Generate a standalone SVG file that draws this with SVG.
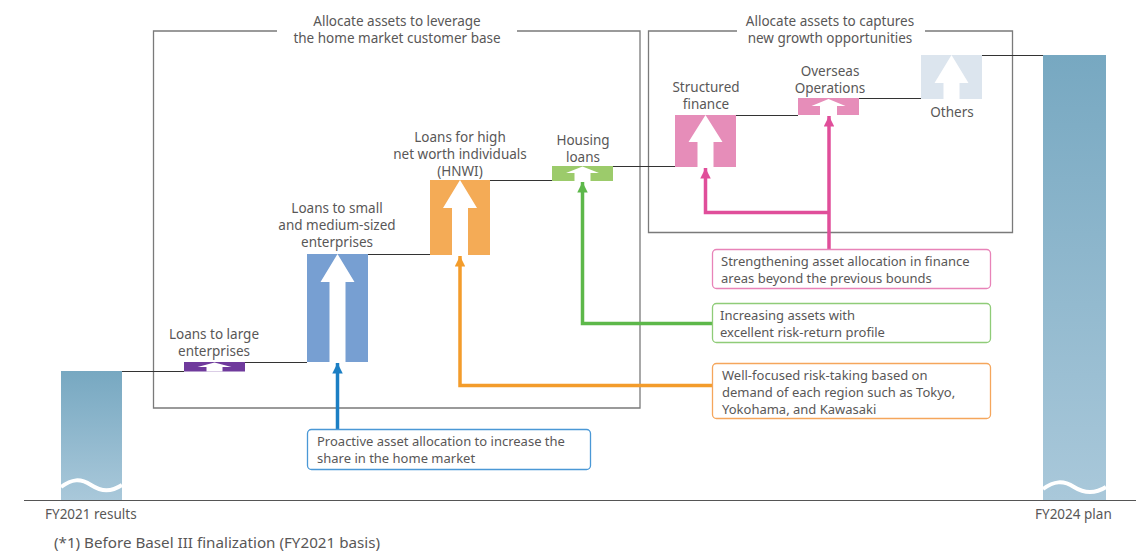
<svg xmlns="http://www.w3.org/2000/svg" width="1136" height="553" viewBox="0 0 1136 553">
  <defs>
    <linearGradient id="barFill" x1="0" y1="0" x2="0" y2="1">
      <stop offset="0" stop-color="#77a8c1"/>
      <stop offset="1" stop-color="#a9c8da"/>
    </linearGradient>
    <marker id="headBlue" viewBox="0 0 10 10" refX="10" refY="5" markerWidth="3" markerHeight="3" markerUnits="strokeWidth" orient="auto">
      <path d="M0,0 L10,5 L0,10 z" fill="#1b7fc4"/>
    </marker>
    <marker id="headOrange" viewBox="0 0 10 10" refX="10" refY="5" markerWidth="3" markerHeight="3" markerUnits="strokeWidth" orient="auto">
      <path d="M0,0 L10,5 L0,10 z" fill="#f39c2b"/>
    </marker>
    <marker id="headGreen" viewBox="0 0 10 10" refX="10" refY="5" markerWidth="3" markerHeight="3" markerUnits="strokeWidth" orient="auto">
      <path d="M0,0 L10,5 L0,10 z" fill="#5db84a"/>
    </marker>
    <marker id="headPink" viewBox="0 0 10 10" refX="10" refY="5" markerWidth="3" markerHeight="3" markerUnits="strokeWidth" orient="auto">
      <path d="M0,0 L10,5 L0,10 z" fill="#e04e9a"/>
    </marker>
  </defs>
  <style>
    text { font-family: "Noto Sans", "Open Sans", sans-serif; fill: #595757; }
    .lbl { font-size: 13.5px; text-anchor: middle; }
    .ttl { font-size: 13.5px; text-anchor: middle; }
    .call { font-size: 13px; }
    .axis { font-size: 13.5px; }
    .frame { fill: none; stroke: #7a7a7a; stroke-width: 1.3; }
    .step { fill: none; stroke: #333333; stroke-width: 1; }
    .up { fill: #ffffff; }
    .wave { fill: none; stroke: #ffffff; stroke-width: 4; }
    .conn { fill: none; stroke-width: 3.5; }
    .box { fill: #ffffff; stroke-width: 1.3; }
  </style>

  <!-- baseline -->
  <line x1="24" y1="500.5" x2="1136" y2="500.5" stroke="#555555" stroke-width="1.2"/>

  <!-- category frames -->
  <g id="frame-home">
    <path class="frame" d="M277,31 H153.5 V408 H640 V31 H517"/>
    <text class="ttl" x="397" y="26">Allocate assets to leverage</text>
    <text class="ttl" x="397" y="43">the home market customer base</text>
  </g>
  <g id="frame-growth">
    <path class="frame" d="M737,31 H648.5 V232.5 H1012.5 V31 H925"/>
    <text class="ttl" x="830" y="26">Allocate assets to captures</text>
    <text class="ttl" x="830" y="43">new growth opportunities</text>
  </g>

  <!-- step lines between bars -->
  <g id="steps">
    <polyline class="step" points="122,371.5 184,371.5"/>
    <polyline class="step" points="245,362.5 307,362.5"/>
    <polyline class="step" points="368,254.5 430,254.5"/>
    <polyline class="step" points="490,180.5 552,180.5"/>
    <polyline class="step" points="613,166.5 675,166.5"/>
    <polyline class="step" points="736,115.5 798,115.5"/>
    <polyline class="step" points="859,98.5 921,98.5"/>
    <polyline class="step" points="982,55.5 1043,55.5"/>
  </g>

  <!-- start and end totals -->
  <g id="fy2021">
    <rect x="61" y="371" width="61" height="129" fill="url(#barFill)"/>
    <path class="wave" d="M61,487 C72,479 80,478 91,485 S111,492 122,485"/>
    <text class="axis" x="45" y="519">FY2021 results</text>
  </g>
  <g id="fy2024">
    <rect x="1043" y="55" width="63" height="445" fill="url(#barFill)"/>
    <path class="wave" d="M1043,489 C1054,481 1063,480 1074,487 S1095,494 1106,487"/>
    <text class="axis" x="1035" y="519">FY2024 plan</text>
  </g>

  <!-- increments -->
  <g id="large-enterprises">
    <rect x="184" y="362" width="61" height="9.5" fill="#6f3a9c"/>
    <polygon class="up" points="214.5,362.5 231.5,367 222.5,367 222.5,371.5 206.5,371.5 206.5,367 197.5,367"/>
    <text class="lbl" x="214" y="339">Loans to large</text>
    <text class="lbl" x="214" y="356">enterprises</text>
  </g>
  <g id="sme">
    <rect x="307" y="254" width="61" height="108" fill="#779fd2"/>
    <polygon class="up" points="337.5,254 354.5,282 345.5,282 345.5,362 329.5,362 329.5,282 320.5,282"/>
    <text class="lbl" x="337" y="213">Loans to small</text>
    <text class="lbl" x="337" y="230">and medium-sized</text>
    <text class="lbl" x="337" y="247">enterprises</text>
  </g>
  <g id="hnwi">
    <rect x="430" y="180" width="60" height="75" fill="#f4ab56"/>
    <polygon class="up" points="460,180 477,208 468,208 468,255 452,255 452,208 443,208"/>
    <text class="lbl" x="460" y="142">Loans for high</text>
    <text class="lbl" x="460" y="159">net worth individuals</text>
    <text class="lbl" x="460" y="176">(HNWI)</text>
  </g>
  <g id="housing">
    <rect x="552" y="166" width="61" height="15" fill="#9ccb6b"/>
    <polygon class="up" points="582.5,166.5 599,173 590.5,173 590.5,181 574.5,181 574.5,173 566,173"/>
    <text class="lbl" x="583" y="145">Housing</text>
    <text class="lbl" x="583" y="162">loans</text>
  </g>
  <g id="structured">
    <rect x="675" y="115" width="61" height="52" fill="#e68db9"/>
    <polygon class="up" points="705.5,115 722.5,142 713.5,142 713.5,167 697.5,167 697.5,142 688.5,142"/>
    <text class="lbl" x="706" y="92">Structured</text>
    <text class="lbl" x="706" y="109">finance</text>
  </g>
  <g id="overseas">
    <rect x="798" y="98" width="61" height="17" fill="#e68db9"/>
    <polygon class="up" points="828.5,99 845.5,106 837,106 837,115 820,115 820,106 811.5,106"/>
    <text class="lbl" x="830" y="76">Overseas</text>
    <text class="lbl" x="830" y="93">Operations</text>
  </g>
  <g id="others">
    <rect x="921" y="55" width="61" height="44" fill="#dce5ee"/>
    <polygon class="up" points="951.5,55 968.5,83 959.5,83 959.5,99 943.5,99 943.5,83 934.5,83"/>
    <text class="lbl" x="952" y="117">Others</text>
  </g>

  <!-- driver connectors -->
  <g id="connectors">
    <path class="conn" stroke="#1b7fc4" d="M337.5,429 V363" marker-end="url(#headBlue)"/>
    <path class="conn" stroke="#f39c2b" d="M712,385.5 H460 V256" marker-end="url(#headOrange)"/>
    <path class="conn" stroke="#5db84a" d="M712,323.5 H582.5 V182" marker-end="url(#headGreen)"/>
    <path class="conn" stroke="#e04e9a" d="M829,249 V116" marker-end="url(#headPink)"/>
    <path class="conn" stroke="#e04e9a" d="M829,212.5 H705.5 V168" marker-end="url(#headPink)"/>
  </g>

  <!-- driver callouts -->
  <g id="note-finance">
    <rect class="box" x="712.5" y="249.5" width="278" height="39" rx="4" stroke="#e883b8"/>
    <text class="call" x="721" y="266">Strengthening asset allocation in finance</text>
    <text class="call" x="721" y="283">areas beyond the previous bounds</text>
  </g>
  <g id="note-riskreturn">
    <rect class="box" x="712.5" y="303.5" width="278" height="39" rx="4" stroke="#8fcc78"/>
    <text class="call" x="720" y="320">Increasing assets with</text>
    <text class="call" x="720" y="337">excellent risk-return profile</text>
  </g>
  <g id="note-region">
    <rect class="box" x="712.5" y="363.5" width="278" height="55" rx="4" stroke="#f5a65c"/>
    <text class="call" x="722" y="380">Well-focused risk-taking based on</text>
    <text class="call" x="722" y="397">demand of each region such as Tokyo,</text>
    <text class="call" x="722" y="414">Yokohama, and Kawasaki</text>
  </g>
  <g id="note-home">
    <rect class="box" x="307.5" y="429.5" width="283" height="40" rx="4" stroke="#4a98d6"/>
    <text class="call" x="317" y="446">Proactive asset allocation to increase the</text>
    <text class="call" x="317" y="463">share in the home market</text>
  </g>

  <text x="54" y="548" style="font-size:15.2px">(*1) Before Basel III finalization (FY2021 basis)</text>
</svg>
